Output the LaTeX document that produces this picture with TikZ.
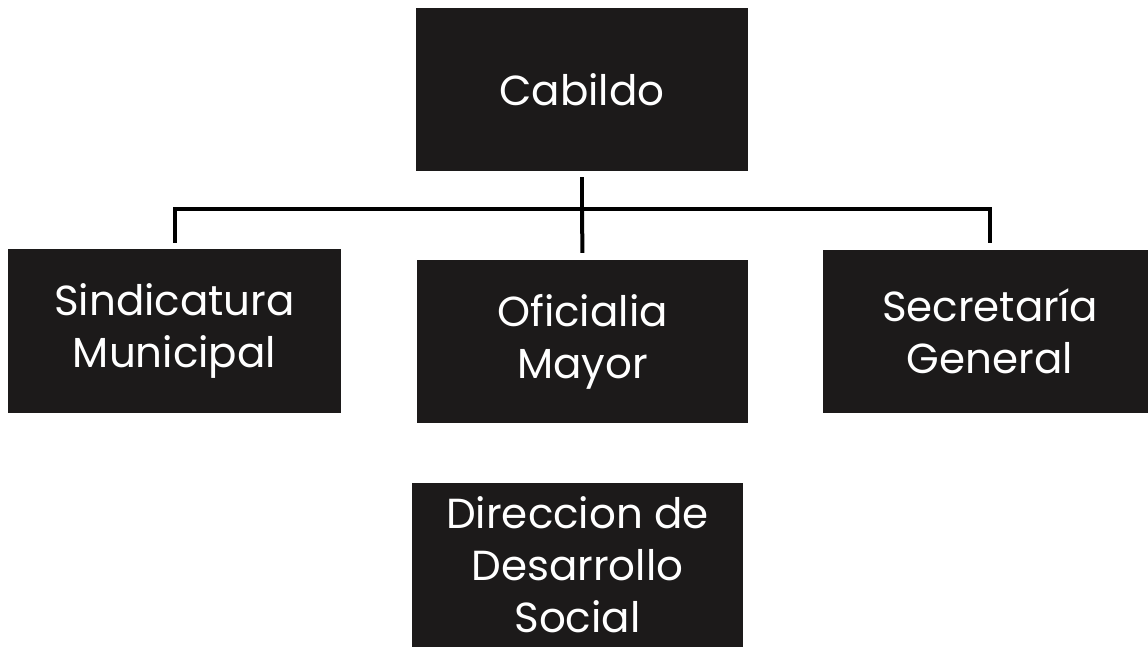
\documentclass[tikz,border=0pt]{standalone}
\usepackage{fontspec}
\setmainfont{Poppins}
\definecolor{boxc}{HTML}{1C1A1A}
\begin{document}
\begin{tikzpicture}[x=1pt,y=-1pt,
  orgbox/.style={fill=boxc, text=white, align=center, inner sep=0pt,
    font=\fontsize{42}{52}\selectfont},
  link/.style={line width=4pt, draw=black}]
\useasboundingbox (0,0) rectangle (1148,649);
\clip (0,0) rectangle (1148,649);
\node[orgbox, minimum width=332pt, minimum height=163pt] (cab) at (582,89.5) {Cabildo};
\node[orgbox, minimum width=333pt, minimum height=164pt] (sin) at (174.5,331) {Sindicatura\\Municipal};
\node[orgbox, minimum width=331pt, minimum height=163pt] (ofi) at (582.5,341.5) {Oficialia\\Mayor};
\node[orgbox, minimum width=334pt, minimum height=163pt] (sec) at (990,331) {Secretaría\\General};
\node[orgbox, minimum width=331pt, minimum height=164pt] (dir) at (577.5,565) {Direccion de\\Desarrollo\\Social};
\coordinate (j) at (582,209);
\draw[link, shorten <=6pt] (cab.south) -- (j);
\draw[link, shorten >=6pt] (j) -| (sin.north);
\draw[link, shorten >=6pt] (j) -| (sec.north);
\draw[link, shorten >=7pt] (j) -- (ofi.north);
\end{tikzpicture}
\end{document}
